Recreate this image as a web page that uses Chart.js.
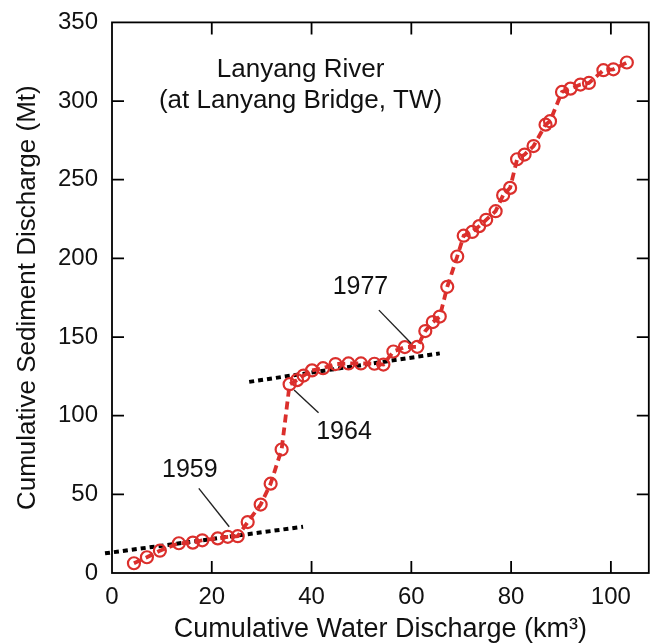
<!DOCTYPE html>
<html>
<head>
<meta charset="utf-8">
<script src="https://cdn.jsdelivr.net/npm/chart.js@4.4.1/dist/chart.umd.min.js"></script>
<style>
  html, body { margin: 0; padding: 0; background: #ffffff; }
  #wrap { width: 657px; height: 643px; }
</style>
</head>
<body>
<div id="wrap"><canvas id="chart" width="657" height="643"></canvas></div>
<script>
// Cumulative water discharge (km3) and cumulative sediment discharge (Mt), year by year
const waterKm3 = [
  4.4, 7.0, 9.6, 13.4, 16.2, 18.1, 21.2, 23.2, 25.2, 27.2,
  29.8, 31.8, 34.0, 35.6, 37.1, 38.4, 40.1, 42.3, 44.8, 47.4,
  49.9, 52.6, 54.4, 56.4, 58.7, 61.2, 62.8, 64.3, 65.7, 67.2,
  69.2, 70.5, 72.2, 73.6, 75.0, 76.9, 78.4, 79.8, 81.2, 82.7,
  84.5, 86.9, 87.8, 90.2, 91.9, 93.9, 95.6, 98.5, 100.5, 103.2
];
const sedimentMt = [
  6.2, 10.0, 14.2, 18.9, 19.3, 20.8, 22.0, 23.0, 23.4, 32.4,
  43.5, 56.8, 78.5, 120.0, 122.6, 125.5, 128.8, 130.2, 132.8, 133.2,
  133.2, 133.0, 132.5, 140.8, 143.6, 143.8, 153.8, 159.5, 163.0, 181.9,
  201.2, 214.4, 216.8, 220.5, 224.5, 230.0, 240.2, 244.8, 263.0, 266.0,
  271.4, 285.0, 287.2, 305.8, 307.9, 310.5, 311.5, 319.6, 320.2, 324.5
];

// Trend lines before and after the 1959 and 1964 breaks
const trendEarlyX = [-1.4, 38.3];
const trendEarlyY = [12.5, 29.4];
const trendLateX = [27.5, 65.7];
const trendLateY = [121.5, 139.6];

// Axis ticks
const xTickValues = [0, 20, 40, 60, 80, 100];
const yTickValues = [0, 50, 100, 150, 200, 250, 300, 350];

// Year call-outs: label, label position, leader line start and end (data units)
const yearLabels = ['1959', '1964', '1977'];
const yearLabelX = [15.6, 46.5, 49.8];
const yearLabelY = [65.4, 89.6, 181.7];
const leaderFromX = [17.4, 36.5, 53.5];
const leaderFromY = [53.8, 116.3, 167.1];
const leaderToX = [23.5, 41.4, 60.0];
const leaderToY = [29.4, 101.8, 145.9];

const stationTitle = ['Lanyang River', '(at Lanyang Bridge, TW)'];

const FONT = "'Liberation Sans', Arial, Helvetica, sans-serif";
const RED = '#db2f2c';

const toPoints = (xs, ys) => xs.map((x, i) => ({ x: x, y: ys[i] }));

// Frame with inward tick marks on all four sides
const framePlugin = {
  id: 'frame',
  afterDatasetsDraw(chart) {
    const { ctx, chartArea: a, scales: { x, y } } = chart;
    const len = 12;
    ctx.save();
    ctx.strokeStyle = '#000';
    ctx.lineWidth = 1.8;
    ctx.strokeRect(a.left, a.top, a.right - a.left, a.bottom - a.top);
    ctx.beginPath();
    xTickValues.forEach(v => {
      const px = x.getPixelForValue(v);
      if (px <= a.left + 1 || px >= a.right - 1) return;
      ctx.moveTo(px, a.bottom); ctx.lineTo(px, a.bottom - len);
      ctx.moveTo(px, a.top); ctx.lineTo(px, a.top + len);
    });
    yTickValues.forEach(v => {
      const py = y.getPixelForValue(v);
      if (py <= a.top + 1 || py >= a.bottom - 1) return;
      ctx.moveTo(a.left, py); ctx.lineTo(a.left + len, py);
      ctx.moveTo(a.right, py); ctx.lineTo(a.right - len, py);
    });
    ctx.stroke();
    ctx.restore();
  }
};

// Station name and year call-outs
const notesPlugin = {
  id: 'notes',
  afterDraw(chart) {
    const { ctx, scales: { x, y } } = chart;
    ctx.save();
    ctx.fillStyle = '#111';
    ctx.textAlign = 'center';
    ctx.textBaseline = 'middle';
    ctx.font = '26px ' + FONT;
    const tx = x.getPixelForValue(37.8);
    ctx.fillText(stationTitle[0], tx, y.getPixelForValue(319.6));
    ctx.fillText(stationTitle[1], tx, y.getPixelForValue(299.9));

    ctx.font = '25px ' + FONT;
    ctx.strokeStyle = '#222';
    ctx.lineWidth = 1.4;
    yearLabels.forEach((t, i) => {
      ctx.fillText(t, x.getPixelForValue(yearLabelX[i]), y.getPixelForValue(yearLabelY[i]));
      ctx.beginPath();
      ctx.moveTo(x.getPixelForValue(leaderFromX[i]), y.getPixelForValue(leaderFromY[i]));
      ctx.lineTo(x.getPixelForValue(leaderToX[i]), y.getPixelForValue(leaderToY[i]));
      ctx.stroke();
    });
    ctx.restore();
  }
};

new Chart(document.getElementById('chart'), {
  type: 'line',
  data: {
    datasets: [
      {
        label: 'Lanyang River',
        data: toPoints(waterKm3, sedimentMt),
        borderColor: RED,
        borderWidth: 3.8,
        borderDash: [8, 5],
        pointRadius: 6,
        pointBorderWidth: 2.2,
        pointBorderColor: RED,
        pointBackgroundColor: 'rgba(255,255,255,0)',
        tension: 0,
        order: 0
      },
      {
        label: 'trend 1959',
        data: toPoints(trendEarlyX, trendEarlyY),
        borderColor: '#000',
        borderWidth: 4,
        borderDash: [5, 4],
        pointRadius: 0,
        clip: false,
        order: 1
      },
      {
        label: 'trend 1964',
        data: toPoints(trendLateX, trendLateY),
        borderColor: '#000',
        borderWidth: 4,
        borderDash: [5, 4],
        pointRadius: 0,
        clip: false,
        order: 1
      }
    ]
  },
  options: {
    responsive: false,
    animation: false,
    layout: { padding: { top: 21, right: 3, left: 0, bottom: 0 } },
    plugins: { legend: { display: false }, tooltip: { enabled: false } },
    scales: {
      x: {
        type: 'linear',
        min: 0,
        max: 107.6,
        afterBuildTicks: s => { s.ticks = xTickValues.map(v => ({ value: v })); },
        afterFit: s => { s.height = 70; },
        grid: { display: false, drawTicks: false },
        border: { display: false },
        ticks: { color: '#111', font: { family: FONT, size: 24 }, padding: 10, maxRotation: 0 },
        title: {
          display: true,
          text: 'Cumulative Water Discharge (km³)',
          color: '#111',
          font: { family: FONT, size: 27, lineHeight: 1.0 },
          padding: { top: 0, bottom: 0 }
        }
      },
      y: {
        type: 'linear',
        min: 0,
        max: 350,
        afterBuildTicks: s => { s.ticks = yTickValues.map(v => ({ value: v })); },
        afterFit: s => { s.width = 112; },
        grid: { display: false, drawTicks: false },
        border: { display: false },
        ticks: { color: '#111', font: { family: FONT, size: 24, lineHeight: 0.7 }, padding: 14 },
        title: {
          display: true,
          text: 'Cumulative Sediment Discharge (Mt)',
          color: '#111',
          font: { family: FONT, size: 26, lineHeight: 1.2 },
          padding: { top: 12, bottom: 0 }
        }
      }
    }
  },
  plugins: [framePlugin, notesPlugin]
});
</script>
</body>
</html>
